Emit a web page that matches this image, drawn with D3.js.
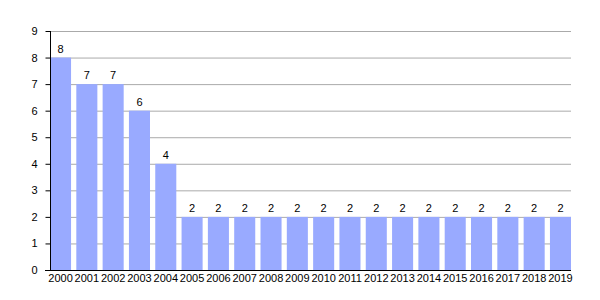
<!DOCTYPE html>
<html lang="en">
<head>
    <meta charset="UTF-8">
    <title>Bars</title>
    <script src="https://d3js.org/d3.v7.min.js"></script>
    <style>
        body { margin: 0; background: #fff; }
        text { font-family: 'Liberation Sans', Arial, sans-serif; fill: #000; }
    </style>
</head>
<body>
<script>

    const width  = 600;
    const height = 300;

    const years  = ['2000','2001','2002','2003','2004','2005','2006','2007','2008','2009',
                    '2010','2011','2012','2013','2014','2015','2016','2017','2018','2019'];
    const values = [8, 7, 7, 6, 4, 2, 2, 2, 2, 2, 2, 2, 2, 2, 2, 2, 2, 2, 2, 2];
    const yTicks = [0, 1, 2, 3, 4, 5, 6, 7, 8, 9];

    const plotLeft = 50, plotRight = 571, plotTop = 31, plotBottom = 270;

    const x = d3.scaleBand()
            .domain(years)
            .range([plotLeft, plotRight])
            .paddingInner(0.2)
            .paddingOuter(0);
    const y = d3.scaleLinear()
            .domain([0, 9])
            .range([plotBottom, plotTop]);

    const svg = d3.select("body")
            .append("svg")
            .attr("width", width)
            .attr("height", height);

    // gridlines
    svg.append("g")
            .selectAll("line")
            .data(yTicks.filter(d => d > 0))
            .enter()
            .append("line")
            .attr("x1", plotLeft)
            .attr("x2", plotRight)
            .attr("y1", d => y(d) + 0.5)
            .attr("y2", d => y(d) + 0.5)
            .attr("stroke", "#aaaaaa")
            .attr("stroke-width", 1);

    svg.append("g")
            .selectAll("rect")
            .data(values)
            .enter()
            .append("rect")
            .attr("x", (d, i) => x(years[i]))
            .attr("width", x.bandwidth())
            .attr("y", d => y(d))
            .attr("height", d => plotBottom - y(d))
            .attr("fill", "#99aaff");

    svg.append("g")
            .selectAll("text")
            .data(values)
            .enter()
            .append("text")
            .text(d => d)
            .attr("x", (d, i) => x(years[i]) + x.bandwidth() / 2)
            .attr("y", d => y(d) - 5)
            .attr("text-anchor", "middle")
            .style("font-size", "11px");

    const yAxis = d3.axisLeft(y)
            .tickValues(yTicks)
            .tickSize(5)
            .tickPadding(8)
            .tickFormat(d3.format("d"));
    const gy = svg.append("g")
            .attr("transform", "translate(" + (plotLeft + 0.5) + ",0)")
            .call(yAxis);
    gy.select(".domain").remove();
    gy.append("line")
            .attr("x1", 0).attr("x2", 0)
            .attr("y1", plotTop).attr("y2", plotBottom)
            .attr("stroke", "#000");
    gy.selectAll("text").style("font-size", "11px");

    const xAxis = d3.axisBottom(x)
            .tickSize(0)
            .tickPadding(4);
    const gx = svg.append("g")
            .attr("transform", "translate(0," + (plotBottom + 0.5) + ")")
            .call(xAxis);
    gx.select(".domain").remove();
    gx.append("line")
            .attr("x1", plotLeft - 5).attr("x2", plotRight)
            .attr("stroke", "#000");
    gx.selectAll("text").style("font-size", "11px");

</script>
</body>
</html>
